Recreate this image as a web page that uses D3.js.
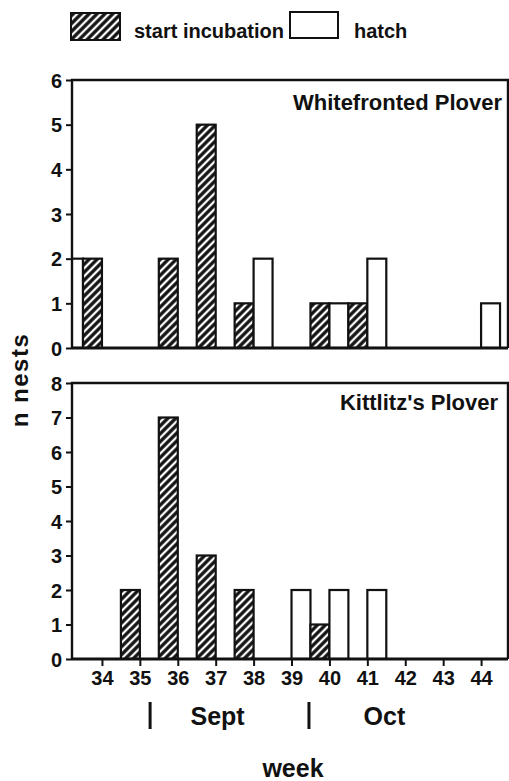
<!DOCTYPE html>
<html>
<head>
<meta charset="utf-8">
<script src="https://cdn.jsdelivr.net/npm/d3@7"></script>
<style>
  body { margin: 0; background: #fff; }
  svg text { font-family: "Liberation Sans", Arial, sans-serif; font-weight: bold; fill: #111; }
</style>
</head>
<body>
<div id="chart"></div>
<script>
// semanas e contagens de ninhos
const semanas = [33, 34, 35, 36, 37, 38, 39, 40, 41, 42, 43, 44];
const semanasEixo = [34, 35, 36, 37, 38, 39, 40, 41, 42, 43, 44];
const wfInicio = [0, 2, 0, 2, 5, 1, 0, 1, 1, 0, 0, 0];
const wfEclosao = [2, 0, 0, 0, 0, 2, 0, 1, 2, 0, 0, 1];
const kpInicio = [0, 0, 2, 7, 3, 2, 0, 1, 0, 0, 0, 0];
const kpEclosao = [0, 0, 0, 0, 0, 0, 2, 2, 2, 0, 0, 0];
const ticksWf = [0, 1, 2, 3, 4, 5, 6];
const ticksKp = [0, 1, 2, 3, 4, 5, 6, 7, 8];
const meses = ["Sept", "Oct"];
const inicioMes = [35.27, 39.46];
const rotuloMes = [37.05, 41.45];

const largura = 509, altura = 781;
const esq = 72, dir = 508;

const svg = d3.select("#chart").append("svg")
    .attr("width", largura)
    .attr("height", altura);

// hachura ////
const defs = svg.append("defs");
const pat = defs.append("pattern")
    .attr("id", "hachura")
    .attr("patternUnits", "userSpaceOnUse")
    .attr("width", 5.6)
    .attr("height", 5.6)
    .attr("patternTransform", "rotate(45)");
pat.append("rect").attr("width", 5.6).attr("height", 5.6).attr("fill", "#111");
pat.append("line")
    .attr("x1", 2.8).attr("x2", 2.8).attr("y1", 0).attr("y2", 5.6)
    .attr("stroke", "#fff").attr("stroke-width", 2.3);

const escalaX = d3.scaleLinear()
    .domain([33.21, 44.71])
    .range([esq, dir]);

const paineis = [
    { nome: "Whitefronted Plover", inicio: wfInicio, eclosao: wfEclosao, ticks: ticksWf, topo: 80, base: 348, tituloY: 110, tituloX: 502, eixoX: false },
    { nome: "Kittlitz's Plover", inicio: kpInicio, eclosao: kpEclosao, ticks: ticksKp, topo: 383, base: 659, tituloY: 410, tituloX: 498, eixoX: true }
];

paineis.forEach((p, i) => {
    const escalaY = d3.scaleLinear()
        .domain([0, d3.max(p.ticks)])
        .range([p.base, p.topo]);

    defs.append("clipPath").attr("id", "clip" + i)
        .append("rect")
        .attr("x", esq).attr("y", p.topo - 2)
        .attr("width", dir - esq).attr("height", p.base - p.topo + 2);

    const g = svg.append("g");
    const barras = g.append("g").attr("clip-path", `url(#clip${i})`);

    const dados = [];
    semanas.forEach((s, j) => {
        if (p.inicio[j] > 0) dados.push({ x0: s - 0.5, x1: s, v: p.inicio[j], tipo: "inicio" });
        if (p.eclosao[j] > 0) dados.push({ x0: s, x1: s + 0.5, v: p.eclosao[j], tipo: "eclosao" });
    });

    barras.selectAll("rect")
        .data(dados)
        .enter()
        .append("rect")
        .attr("x", d => escalaX(d.x0))
        .attr("y", d => escalaY(d.v))
        .attr("width", d => escalaX(d.x1) - escalaX(d.x0))
        .attr("height", d => p.base - escalaY(d.v))
        .attr("fill", d => d.tipo === "inicio" ? "url(#hachura)" : "#fff")
        .attr("stroke", "#111")
        .attr("stroke-width", 2.2);

    // moldura
    g.append("path")
        .attr("d", `M${esq},${p.base}V${p.topo}H${dir}V${p.base}`)
        .attr("fill", "none")
        .attr("stroke", "#111")
        .attr("stroke-width", 2.4);
    g.append("line")
        .attr("x1", esq).attr("x2", dir)
        .attr("y1", p.base).attr("y2", p.base)
        .attr("stroke", "#111").attr("stroke-width", 2.8);

    // eixo y
    const eixoY = g.append("g")
        .attr("transform", `translate(${esq},0)`)
        .call(d3.axisLeft(escalaY).tickValues(p.ticks).tickSize(6).tickPadding(4).tickFormat(d3.format("d")));
    eixoY.select(".domain").remove();
    eixoY.selectAll(".tick line").attr("stroke", "#111").attr("stroke-width", 2);
    eixoY.selectAll(".tick text")
        .style("font-size", "20px")
        .style("font-family", "'Liberation Sans', Arial, sans-serif")
        .style("font-weight", "bold")
        .attr("fill", "#111")
        .attr("dy", "0.36em");

    if (p.eixoX) {
        const eixo = g.append("g")
            .attr("transform", `translate(0,${p.base})`)
            .call(d3.axisBottom(escalaX).tickValues(semanasEixo).tickSize(7).tickPadding(5).tickFormat(d3.format("d")));
        eixo.select(".domain").remove();
        eixo.selectAll(".tick line").attr("stroke", "#111").attr("stroke-width", 2);
        eixo.selectAll(".tick text")
            .style("font-size", "20px")
            .style("font-family", "'Liberation Sans', Arial, sans-serif")
            .style("font-weight", "bold")
            .attr("fill", "#111");
    }

    g.append("text")
        .attr("x", p.tituloX)
        .attr("y", p.tituloY)
        .attr("text-anchor", "end")
        .style("font-size", "22px")
        .text(p.nome);
});

// meses
meses.forEach((m, j) => {
    svg.append("line")
        .attr("x1", escalaX(inicioMes[j])).attr("x2", escalaX(inicioMes[j]))
        .attr("y1", 702).attr("y2", 729)
        .attr("stroke", "#111").attr("stroke-width", 3);
    svg.append("text")
        .attr("x", escalaX(rotuloMes[j]))
        .attr("y", 725)
        .attr("text-anchor", "middle")
        .style("font-size", "25px")
        .text(m);
});

// rótulos dos eixos
svg.append("text")
    .attr("x", 293).attr("y", 777)
    .attr("text-anchor", "middle")
    .style("font-size", "25px")
    .text("week");

svg.append("text")
    .attr("transform", "translate(28,380) rotate(-90)")
    .attr("text-anchor", "middle")
    .style("font-size", "24px")
    .style("letter-spacing", "1.5px")
    .text("n nests");

// legenda
const legenda = svg.append("g");
legenda.append("rect")
    .attr("x", 71).attr("y", 13).attr("width", 49).attr("height", 27)
    .attr("fill", "url(#hachura)").attr("stroke", "#111").attr("stroke-width", 2);
legenda.append("text")
    .attr("x", 134).attr("y", 38)
    .style("font-size", "20px")
    .text("start incubation");
legenda.append("rect")
    .attr("x", 290).attr("y", 12).attr("width", 48).attr("height", 26)
    .attr("fill", "#fff").attr("stroke", "#111").attr("stroke-width", 2);
legenda.append("text")
    .attr("x", 354).attr("y", 38)
    .style("font-size", "20px")
    .text("hatch");
</script>
</body>
</html>
